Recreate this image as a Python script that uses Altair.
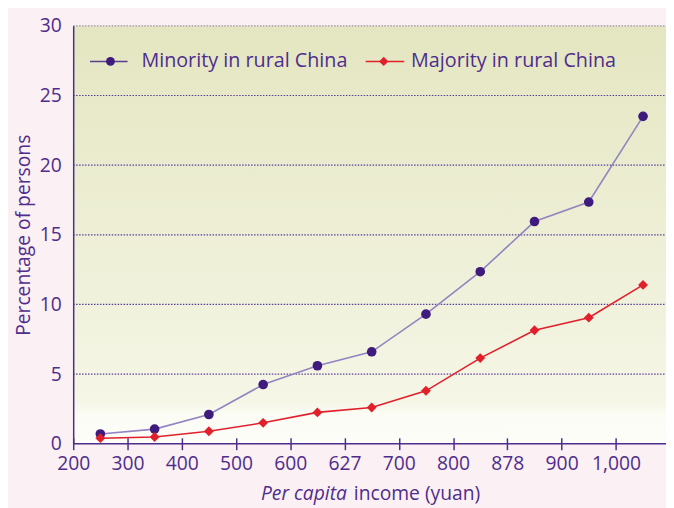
import altair as alt
import pandas as pd

# ---- data ----
tick_labels = ["200", "300", "400", "500", "600", "627", "700", "800", "878", "900", "1,000"]
tick_pos = list(range(len(tick_labels)))
x_mid = [0.5, 1.5, 2.5, 3.5, 4.5, 5.5, 6.5, 7.5, 8.5, 9.5, 10.5]
minority = [0.7, 1.05, 2.1, 4.25, 5.6, 6.6, 9.3, 12.35, 15.95, 17.35, 23.5]
majority = [0.4, 0.48, 0.9, 1.5, 2.25, 2.6, 3.8, 6.15, 8.15, 9.05, 11.4]
grid_vals = [5, 10, 15, 20, 25, 30]
series_names = ["Minority in rural China", "Majority in rural China"]

PURPLE = "#4f2d8d"
DARKPURPLE = "#3e1b7c"
LIGHTPURPLE = "#9384c2"
RED = "#e1202b"
FONT = "Open Sans"
W, H = 600, 423
XMAX = 10.923

df_min = pd.DataFrame({"x": x_mid, "y": minority})
df_maj = pd.DataFrame({"x": x_mid, "y": majority})
df_grid = pd.DataFrame({"y": grid_vals, "top": [v == 30 for v in grid_vals]})
one = pd.DataFrame({"a": [0]})

xscale = alt.Scale(domain=[0, XMAX], nice=False, zero=False)
yscale = alt.Scale(domain=[0, 30], nice=False)

label_expr = "[" + ",".join("'" + s + "'" for s in tick_labels) + "][datum.value]"

x_axis = alt.Axis(values=tick_pos, labelExpr=label_expr, domain=False, tickSize=12,
                  offset=-6, tickColor=PURPLE, tickWidth=1.5, labelPadding=5,
                  grid=False, title=None, labelFont=FONT, labelFontSize=19.5,
                  labelColor=PURPLE, zindex=1, labelOverlap=False, labelFlush=False)
y_axis = alt.Axis(values=[0, 5, 10, 15, 20, 25, 30], ticks=False, domain=True,
                  domainColor=PURPLE, domainWidth=1.5, grid=False,
                  labelPadding=12, labelFont=FONT, labelFontSize=19.5,
                  labelColor=PURPLE, title="Percentage of persons",
                  titleFont=FONT, titleFontSize=19.5, titleFontWeight="normal",
                  titleColor=PURPLE, titlePadding=6, zindex=1, labelFlush=False)

gradient = alt.LinearGradient(
    gradient="linear", x1=0, x2=0, y1=0, y2=1,
    stops=[alt.GradientStop(color="#e4e6c1", offset=0),
           alt.GradientStop(color="#f5f6e6", offset=0.9),
           alt.GradientStop(color="#fbfcf4", offset=0.93),
           alt.GradientStop(color="#fdfdf9", offset=1)])

bg = alt.Chart(one).mark_rect(fill=gradient).encode(
    x=alt.value(0), x2=alt.value(W), y=alt.value(0), y2=alt.value(H))

grid = alt.Chart(df_grid).mark_rule(strokeDash=[1.5, 1.5], strokeWidth=1.2).encode(
    y=alt.Y("y:Q", scale=yscale, axis=y_axis),
    x=alt.value(0), x2=alt.value(W),
    color=alt.condition("datum.top", alt.value("#9a8fb3"), alt.value("#5a3c9a")))

xline = alt.Chart(one).mark_rule(color=PURPLE, strokeWidth=1.5).encode(
    x=alt.value(0), x2=alt.value(W), y=alt.value(H))

min_line = alt.Chart(df_min).mark_line(color=LIGHTPURPLE, strokeWidth=1.6).encode(
    x=alt.X("x:Q", scale=xscale, axis=x_axis), y=alt.Y("y:Q", scale=yscale))
min_pts = alt.Chart(df_min).mark_point(shape="circle", filled=True, opacity=1,
                                      color=DARKPURPLE, size=95).encode(
    x=alt.X("x:Q", scale=xscale), y=alt.Y("y:Q", scale=yscale))
maj_line = alt.Chart(df_maj).mark_line(color=RED, strokeWidth=1.6).encode(
    x=alt.X("x:Q", scale=xscale), y=alt.Y("y:Q", scale=yscale))
maj_pts = alt.Chart(df_maj).mark_point(shape="diamond", filled=True, opacity=1,
                                      color=RED, size=100).encode(
    x=alt.X("x:Q", scale=xscale), y=alt.Y("y:Q", scale=yscale))

# legend (manual)
LY = 36
leg = [
    alt.Chart(one).mark_rule(color="#5a3c92", strokeWidth=1.5).encode(
        x=alt.value(17), x2=alt.value(55), y=alt.value(LY)),
    alt.Chart(one).mark_point(shape="circle", filled=True, opacity=1, color=DARKPURPLE, size=80).encode(
        x=alt.value(37.7), y=alt.value(LY)),
    alt.Chart(one).mark_text(text=series_names[0], align="left", baseline="alphabetic",
                             font=FONT, fontSize=20, color=PURPLE).encode(
        x=alt.value(69), y=alt.value(42)),
    alt.Chart(one).mark_rule(color=RED, strokeWidth=1.5).encode(
        x=alt.value(296), x2=alt.value(335), y=alt.value(LY)),
    alt.Chart(one).mark_point(shape="diamond", filled=True, opacity=1, color=RED, size=90).encode(
        x=alt.value(314.3), y=alt.value(LY)),
    alt.Chart(one).mark_text(text=series_names[1], align="left", baseline="alphabetic",
                             font=FONT, fontSize=20, color=PURPLE).encode(
        x=alt.value(342), y=alt.value(42)),
]

xt1 = alt.Chart(one).mark_text(text="Per capita", align="right", baseline="alphabetic",
                               font=FONT, fontSize=19.5, fontStyle="italic", color=PURPLE).encode(
    x=alt.value(277), y=alt.value(480))
xt2 = alt.Chart(one).mark_text(text="income (yuan)", align="left", baseline="alphabetic",
                               font=FONT, fontSize=19.5, color=PURPLE).encode(
    x=alt.value(284), y=alt.value(480))

chart = alt.layer(bg, grid, xline, min_line, min_pts, maj_line, maj_pts, *leg, xt1, xt2).properties(
    width=W, height=H,
    autosize=alt.AutoSizeParams(type="none"),
    padding={"left": 66, "top": 15, "right": 0, "bottom": 62},
    background="#fbf0f3",
).configure_view(stroke=None)

chart.save("out.html", embed_options={"renderer": "svg", "actions": False})
